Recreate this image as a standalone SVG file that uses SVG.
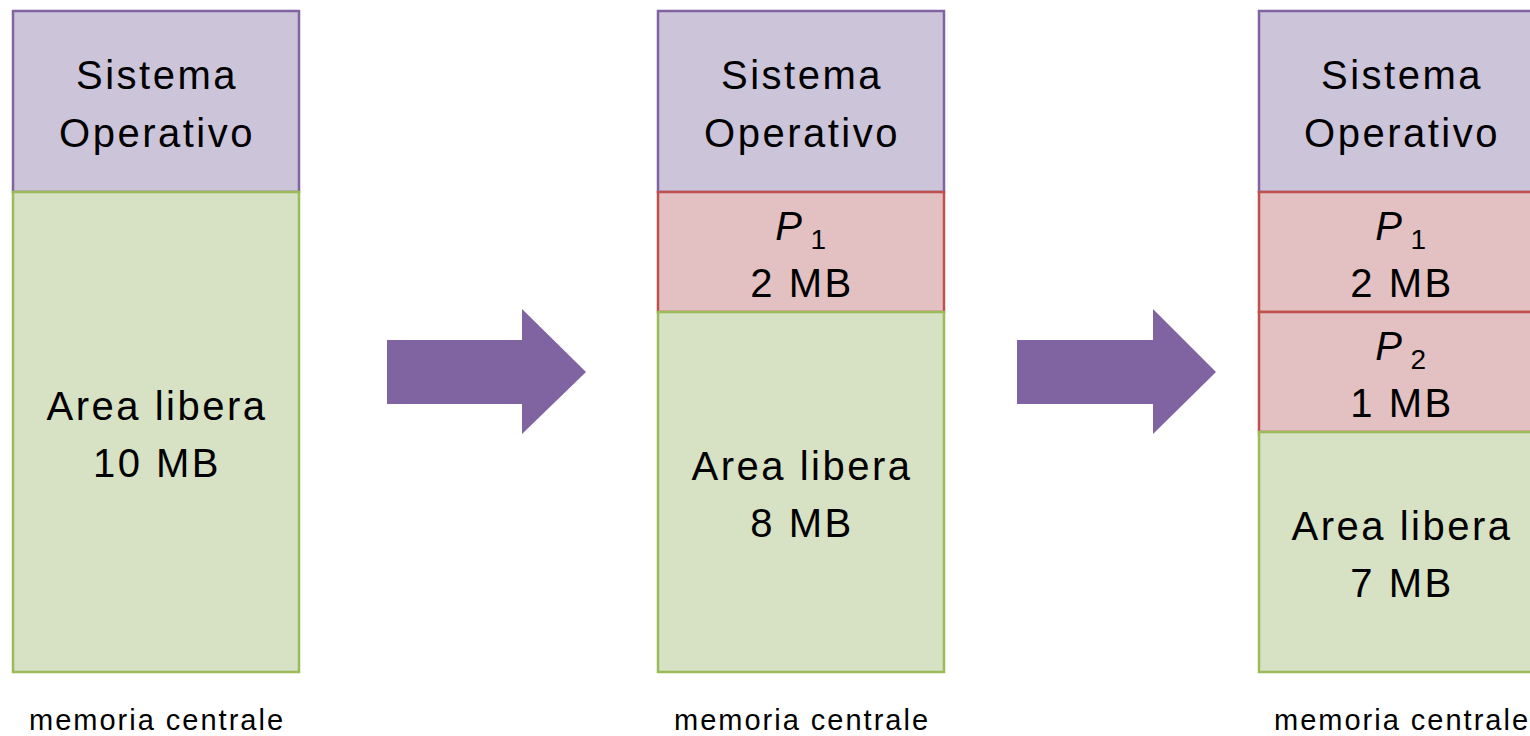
<svg xmlns="http://www.w3.org/2000/svg" width="1530" height="736" viewBox="0 0 1530 736">
<style>
.os{fill:#ccc4d9;stroke:#8064a2;stroke-width:2.5}
.pr{fill:#e3c1c2;stroke:#c0504d;stroke-width:2.5}
.fr{fill:#d7e1c4;stroke:#9bbb59;stroke-width:2.5}
.t{font-family:"Liberation Sans",Arial,sans-serif;font-size:40px;fill:#000;text-anchor:middle;letter-spacing:2.5px}
.c{font-family:"Liberation Sans",Arial,sans-serif;font-size:29px;fill:#000;text-anchor:middle;letter-spacing:2px}
.ar{fill:#8064a2}
</style>
<rect width="1530" height="736" fill="#fff"/>
<g id="col1">
<g id="os1"><rect class="os" x="13" y="11" width="286" height="181"/><text class="t" x="157" y="89">Sistema</text><text class="t" x="157" y="147">Operativo</text></g>
<g id="free1"><rect class="fr" x="13" y="192" width="286" height="480"/><text class="t" x="157" y="420">Area libera</text><text class="t" x="157" y="477">10 MB</text></g>
<text class="c" x="157" y="730">memoria centrale</text>
</g>
<g id="col2">
<g id="os2"><rect class="os" x="658" y="11" width="286" height="181"/><text class="t" x="802" y="89">Sistema</text><text class="t" x="802" y="147">Operativo</text></g>
<g id="p1b"><rect class="pr" x="658" y="192" width="286" height="120"/><text class="t" x="802" y="240"><tspan font-style="italic">P</tspan><tspan font-size="28" dx="6" dy="9">1</tspan></text><text class="t" x="802" y="297">2 MB</text></g>
<g id="free2"><rect class="fr" x="658" y="312" width="286" height="360"/><text class="t" x="802" y="480">Area libera</text><text class="t" x="802" y="537">8 MB</text></g>
<text class="c" x="802" y="730">memoria centrale</text>
</g>
<g id="col3">
<g id="os3"><rect class="os" x="1259" y="11" width="286" height="181"/><text class="t" x="1402" y="89">Sistema</text><text class="t" x="1402" y="147">Operativo</text></g>
<g id="p1c"><rect class="pr" x="1259" y="192" width="286" height="120"/><text class="t" x="1402" y="240"><tspan font-style="italic">P</tspan><tspan font-size="28" dx="6" dy="9">1</tspan></text><text class="t" x="1402" y="297">2 MB</text></g>
<g id="p2c"><rect class="pr" x="1259" y="312" width="286" height="120"/><text class="t" x="1402" y="360"><tspan font-style="italic">P</tspan><tspan font-size="28" dx="6" dy="9">2</tspan></text><text class="t" x="1402" y="417">1 MB</text></g>
<g id="free3"><rect class="fr" x="1259" y="432" width="286" height="240"/><text class="t" x="1402" y="540">Area libera</text><text class="t" x="1402" y="597">7 MB</text></g>
<text class="c" x="1402" y="730">memoria centrale</text>
</g>
<g id="connectors">
<polygon class="ar" points="387,340 522,340 522,309 586,372 522,434 522,404 387,404"/>
<polygon class="ar" points="1017,340 1153,340 1153,309 1216,372 1153,434 1153,404 1017,404"/>
</g>
</svg>
